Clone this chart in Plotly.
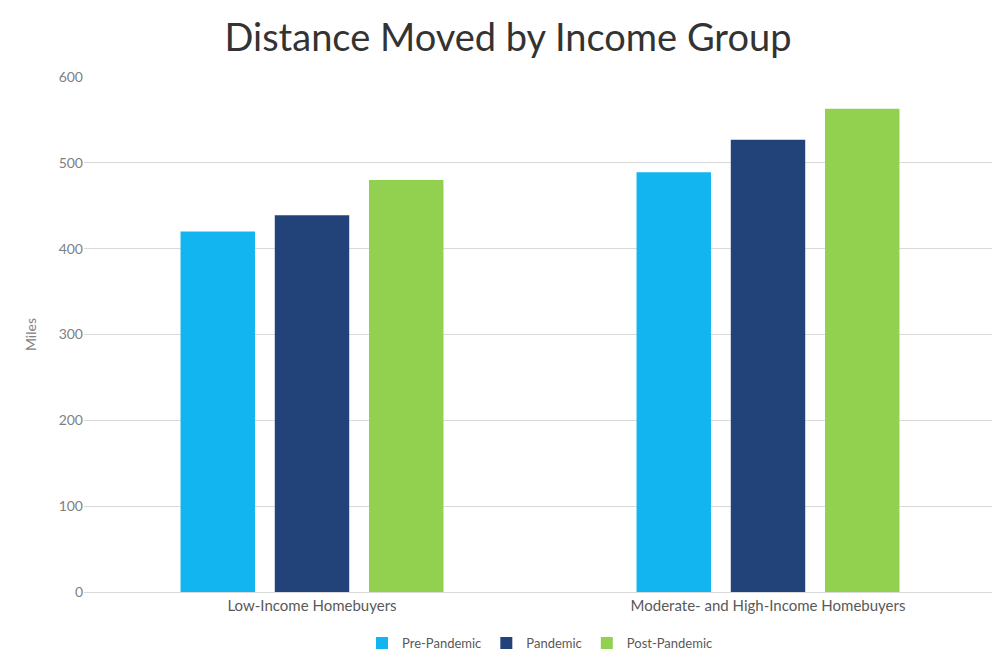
import plotly.graph_objects as go

categories = ["Low-Income Homebuyers", "Moderate- and High-Income Homebuyers"]
series = ["Pre-Pandemic", "Pandemic", "Post-Pandemic"]
values = {
    "Pre-Pandemic": [420, 489],
    "Pandemic": [439, 527],
    "Post-Pandemic": [480, 563],
}
colors = {"Pre-Pandemic": "#12b5ef", "Pandemic": "#22437a", "Post-Pandemic": "#92d050"}
yticks = [0, 100, 200, 300, 400, 500, 600]

fig = go.Figure()
for s in series:
    fig.add_trace(go.Bar(name=s, x=categories, y=values[s], marker_color=colors[s],
                         marker_line_width=0))

fig.update_layout(
    width=1000, height=662,
    margin=dict(l=76, r=12, t=69, b=69),
    paper_bgcolor="white", plot_bgcolor="white",
    barmode="group", bargap=0.38, bargroupgap=0.21,
    font=dict(family="Lato, sans-serif", color="#595959"),
    title=dict(text="Distance Moved by Income Group", x=0.5, xanchor="center",
               y=0.955, yanchor="middle", font=dict(size=38, color="#333333")),
    yaxis=dict(range=[0, 600], tickvals=yticks, showgrid=True, gridcolor="#d9d9d9",
               zeroline=False, title=dict(text="Miles", font=dict(size=14, color="#7f7f7f"), standoff=18),
               tickfont=dict(size=14, color="#7f7f7f"), ticks="", showline=False),
    xaxis=dict(showline=True, linecolor="#d9d9d9", tickfont=dict(size=15, color="#595959"), ticks=""),
    legend=dict(orientation="h", x=0.5, xanchor="center", y=-0.07, yanchor="top",
                font=dict(size=13, color="#595959"), itemsizing="constant"),
)
fig.write_html("out.html")
